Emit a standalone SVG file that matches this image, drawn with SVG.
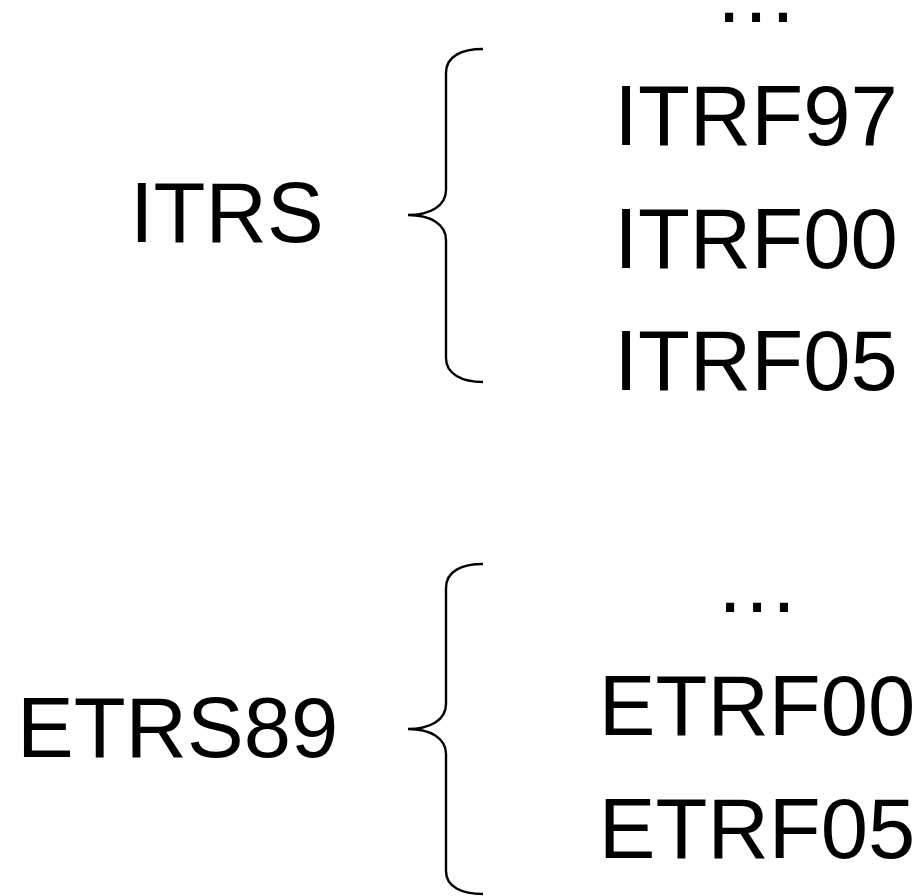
<svg xmlns="http://www.w3.org/2000/svg" width="923" height="896" viewBox="0 0 923 896">
  <style>
    .lbl { font-family: "Liberation Sans", Arial, sans-serif; font-size: 85px; fill: #000; }
    .mid { text-anchor: middle; }
    .brace { fill: none; stroke: #000; stroke-width: 2.4; }
  </style>
  <rect width="923" height="896" fill="#fff"/>

  <!-- braces linking each system to its realisations -->
  <g id="connectors">
    <path class="brace" d="M483,49 C462,49 446,56 446,73 L446,190 C446,206 430,215 408,215 C430,215 446,224 446,240 L446,358 C446,374 462,382 483,382"/>
    <path class="brace" d="M483,564 C462,564 446,571 446,588 L446,704 C446,720 430,729 408,729 C430,729 446,738 446,754 L446,871 C446,887 462,894 483,894"/>
  </g>

  <g id="itrs">
    <text class="lbl" x="130" y="242">ITRS</text>
  </g>
  <g id="itrf-list">
    <text class="lbl mid" x="756" y="22">…</text>
    <text class="lbl mid" x="756" y="145">ITRF97</text>
    <text class="lbl mid" x="756" y="268">ITRF00</text>
    <text class="lbl mid" x="756" y="390">ITRF05</text>
  </g>

  <g id="etrs89">
    <text class="lbl" x="17" y="757">ETRS89</text>
  </g>
  <g id="etrf-list">
    <text class="lbl mid" x="757" y="612">…</text>
    <text class="lbl mid" x="757" y="735">ETRF00</text>
    <text class="lbl mid" x="757" y="858">ETRF05</text>
  </g>
</svg>
